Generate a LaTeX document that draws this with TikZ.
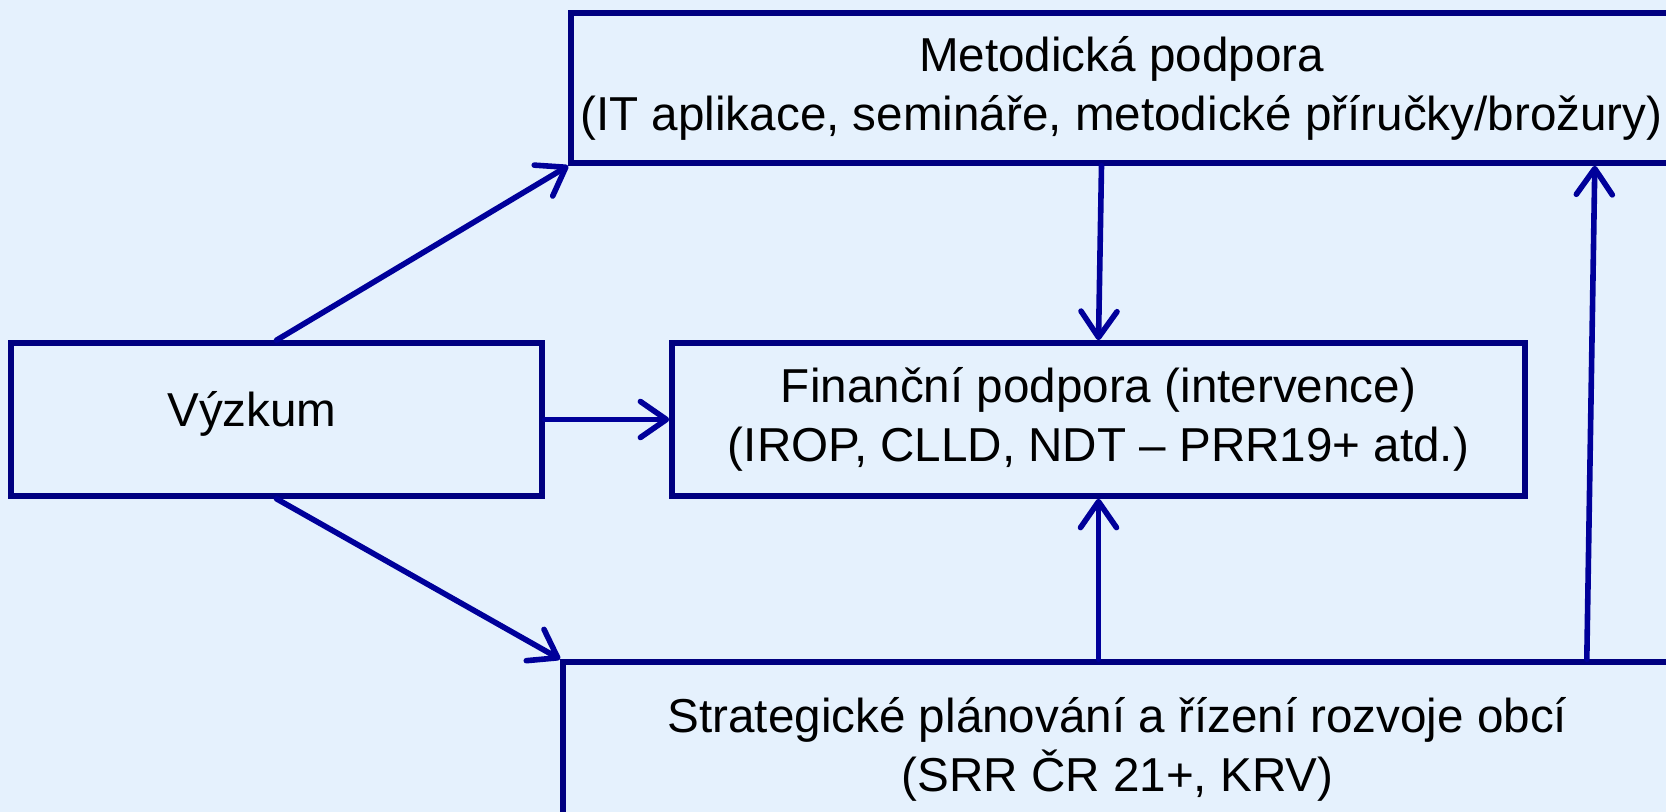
\documentclass[tikz,border=0pt]{standalone}
\usepackage{fontspec}
\setmainfont{Liberation Sans}
\usetikzlibrary{arrows.meta,calc}
\definecolor{bg}{HTML}{E5F1FD}
\definecolor{boxline}{HTML}{000080}
\definecolor{arrowline}{HTML}{00009A}
\begin{document}
\begin{tikzpicture}[x=0.5pt,y=-0.5pt,
  box/.style={draw=boxline,line width=2.8pt,rectangle,align=center,inner sep=0pt,
    font=\fontsize{23.8}{29.5}\selectfont},
  conn/.style={draw=arrowline,line width=2.8pt,line cap=round,
    -{Straight Barb[length=13pt,width=18pt,round]}}]
\fill[bg] (0,0) rectangle (1666,812);
\useasboundingbox (0,0) rectangle (1666,812);
\node[box,minimum width=265.5pt,minimum height=76.5pt] (vyz) at (276.5,419.5) {};
\node[font=\fontsize{23.8}{29.5}\selectfont] (vyztext) at (252,414) {Výzkum};
\node[box,minimum width=550.5pt,minimum height=75pt] (met) at (1121.5,88)
  {Metodická podpora\\(IT aplikace, semináře, metodické příručky/brožury)};
\node[box,minimum width=426.5pt,minimum height=76.5pt] (fin) at (1098.5,419.5)
  {Finanční podpora (intervence)\\(IROP, CLLD, NDT – PRR19+ atd.)};
\node[box,minimum width=554.5pt,minimum height=87pt] (str) at (1117.5,749)
  {Strategické plánování a řízení rozvoje obcí\\(SRR ČR 21+, KRV)};
\draw[conn] (vyz.north) -- (met.south west);
\draw[conn] (vyz.east) -- (fin.west);
\draw[conn] (vyz.south) -- (str.north west);
\draw[conn] ([xshift=1.5pt]fin.north |- met.south) -- (fin.north);
\draw[conn] (fin.south |- str.north) -- (fin.south);
\draw[conn] ($(str.north east)+(-88,0)$) -- ($(met.south east)+(-80,0)$);
\end{tikzpicture}
\end{document}
